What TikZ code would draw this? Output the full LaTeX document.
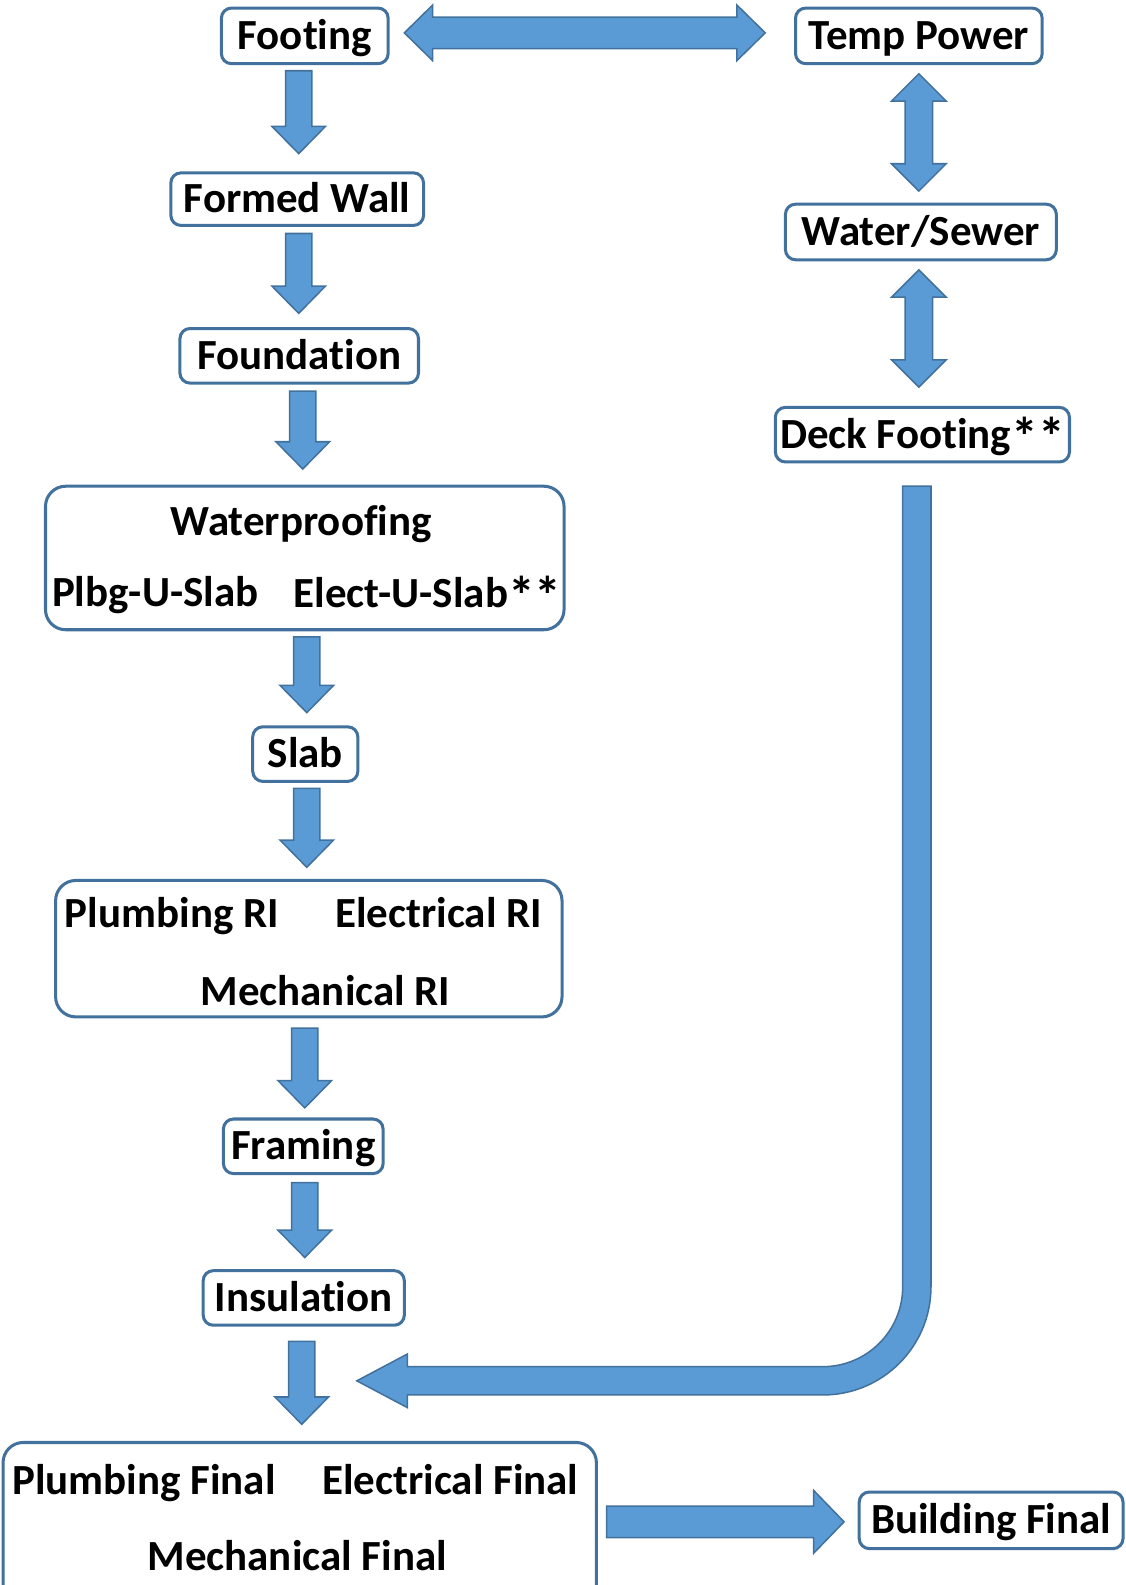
\documentclass[tikz,border=0pt]{standalone}
\usepackage{fontspec}
\usepackage{graphicx}
\setmainfont{Carlito}[Ligatures={NoCommon}]
\usetikzlibrary{calc}
\definecolor{afill}{HTML}{5B9BD5}
\definecolor{aline}{HTML}{41719C}
\newcommand\myast{\raisebox{-7pt}{\scalebox{1.25}{*}}}
\tikzset{
 box/.style={draw=aline, line width=3pt, rounded corners=10pt, fill=white, inner sep=0pt},
 bigbox/.style={box, rounded corners=20pt},
 lbl/.style={font=\fontsize{42.5}{43}\selectfont\bfseries, text height=27pt, text depth=0pt, inner sep=0pt},
 blk/.style={fill=afill, draw=aline, line width=1.5pt, line join=miter},
}
\newcommand\downarr[2]{%
 \draw[blk] let \p1=(#1), \p2=(#2) in
 (\x1-13pt,\y1) -- (\x1+13pt,\y1) -- (\x1+13pt,\y2+27pt) -- (\x1+26.5pt,\y2+27pt) -- (\x2,\y2)
 -- (\x1-26.5pt,\y2+27pt) -- (\x1-13pt,\y2+27pt) -- cycle;}
\newcommand\vdbl[2]{%
 \draw[blk] let \p1=(#1), \p2=(#2) in
 (\x1,\y1) -- (\x1+27pt,\y1-27pt) -- (\x1+13.5pt,\y1-27pt) -- (\x1+13.5pt,\y2+27pt) -- (\x1+27pt,\y2+27pt)
 -- (\x2,\y2) -- (\x1-27pt,\y2+27pt) -- (\x1-13.5pt,\y2+27pt) -- (\x1-13.5pt,\y1-27pt) -- (\x1-27pt,\y1-27pt) -- cycle;}
\begin{document}
\begin{tikzpicture}[x=1pt,y=-1pt]
\useasboundingbox (0,0) rectangle (1113,1568);
\clip (0,0) rectangle (1113,1568);
% boxes
\node[box,lbl,minimum width=165pt,minimum height=55pt] (footing) at (301.5,35.5) {Footing};
\node[box,lbl,minimum width=244pt,minimum height=55pt] (temp) at (909,35.5) {Temp Power};
\node[box,lbl,minimum width=250pt,minimum height=52pt] (formed) at (294,197) {Formed Wall};
\node[box,lbl,minimum width=236pt,minimum height=54pt] (found) at (296,352) {Foundation};
\node[bigbox,minimum width=513pt,minimum height=142pt] (water) at (301.5,552) {};
\node[lbl] (wtxt) at (298,516) {Waterproofing};
\node[lbl] (plbg) at (153.5,586) {Plbg-U-Slab};
\node[lbl] (elect) at (423,587) {Elect-U-Slab\myast\myast};
\node[box,lbl,minimum width=104pt,minimum height=54pt] (slab) at (302,746) {Slab};
\node[bigbox,minimum width=501pt,minimum height=135pt] (ri) at (305.5,938.5) {};
\node[lbl] (pri) at (170,904) {Plumbing RI};
\node[lbl] (eri) at (434,904) {Electrical RI};
\node[lbl] (mri) at (322,981) {Mechanical RI};
\node[box,lbl,minimum width=158pt,minimum height=54pt] (framing) at (300,1134) {Framing};
\node[box,lbl,minimum width=199pt,minimum height=54pt] (insul) at (300.5,1284) {Insulation};
\node[bigbox,minimum width=587pt,minimum height=163pt] (finals) at (296.5,1508.5) {};
\node[lbl] (pf) at (142.5,1465) {Plumbing Final};
\node[lbl] (ef) at (445.5,1465) {Electrical Final};
\node[lbl] (mf) at (294,1540) {Mechanical Final};
\node[box,lbl,minimum width=261pt,minimum height=56pt] (bldg) at (980.5,1504) {Building Final};
\node[box,lbl,minimum width=268pt,minimum height=55pt] (ws) at (911,229.5) {Water/Sewer};
\node[box,lbl,minimum width=291pt,minimum height=54pt] (deck) at (912.5,430) {Deck Footing\myast\myast};
% arrow end points
\coordinate (a1s) at (295.5,70);   \coordinate (a1e) at (295.5,152);
\coordinate (a2s) at (295.5,231);  \coordinate (a2e) at (295.5,310);
\coordinate (a3s) at (299.5,387);  \coordinate (a3e) at (299.5,464);
\coordinate (a4s) at (303.5,630);  \coordinate (a4e) at (303.5,705);
\coordinate (a5s) at (303.5,780);  \coordinate (a5e) at (303.5,858);
\coordinate (a6s) at (301.5,1017); \coordinate (a6e) at (301.5,1096);
\coordinate (a7s) at (301.5,1170); \coordinate (a7e) at (301.5,1244);
\coordinate (a8s) at (298.5,1327); \coordinate (a8e) at (298.5,1409);
\coordinate (h1s) at (400,32.5);   \coordinate (h1e) at (757,32.5);
\coordinate (v1s) at (909,73);     \coordinate (v1e) at (909,189);
\coordinate (v2s) at (909,267);    \coordinate (v2e) at (909,383);
\coordinate (bs) at (907,481);     \coordinate (be) at (353,1366);
\coordinate (rs) at (600,1505.5);  \coordinate (re) at (835,1505.5);
% arrows
\downarr{a1s}{a1e}
\downarr{a2s}{a2e}
\downarr{a3s}{a3e}
\downarr{a4s}{a4e}
\downarr{a5s}{a5e}
\downarr{a6s}{a6e}
\downarr{a7s}{a7e}
\downarr{a8s}{a8e}
\vdbl{v1s}{v1e}
\vdbl{v2s}{v2e}
\draw[blk] let \p1=(h1s), \p2=(h1e) in
 (\x1,\y1) -- (\x1+28pt,\y1+27.5pt) -- (\x1+28pt,\y1+15.5pt) -- (\x2-28pt,\y1+15.5pt) -- (\x2-28pt,\y1+27.5pt)
 -- (\x2,\y2) -- (\x2-28pt,\y1-27.5pt) -- (\x2-28pt,\y1-15.5pt) -- (\x1+28pt,\y1-15.5pt) -- (\x1+28pt,\y1-27.5pt) -- cycle;
\draw[blk] let \p1=(rs), \p2=(re) in
 (\x1,\y1+15.5pt) -- (\x2-30pt,\y1+15.5pt) -- (\x2-30pt,\y1+31pt) -- (\x2,\y2) -- (\x2-30pt,\y1-31pt)
 -- (\x2-30pt,\y1-15.5pt) -- (\x1,\y1-15.5pt) -- cycle;
\draw[blk] let \p1=(bs), \p2=(be) in
 (\x1-14pt,\y1) -- (\x1+14pt,\y1) -- (\x1+14pt,\y2+93pt)
 .. controls (\x1+14pt,\y2+33.9pt) and (\x1-33.9pt,\y2-14pt) .. (\x1-93pt,\y2-14pt)
 -- (\x2+50pt,\y2-14pt) -- (\x2+50pt,\y2-26.5pt) -- (\x2,\y2) -- (\x2+50pt,\y2+26.5pt) -- (\x2+50pt,\y2+14pt)
 -- (\x1-93pt,\y2+14pt)
 .. controls (\x1-49.4pt,\y2+14pt) and (\x1-14pt,\y2+49.4pt) .. (\x1-14pt,\y2+93pt) -- cycle;
\end{tikzpicture}
\end{document}
